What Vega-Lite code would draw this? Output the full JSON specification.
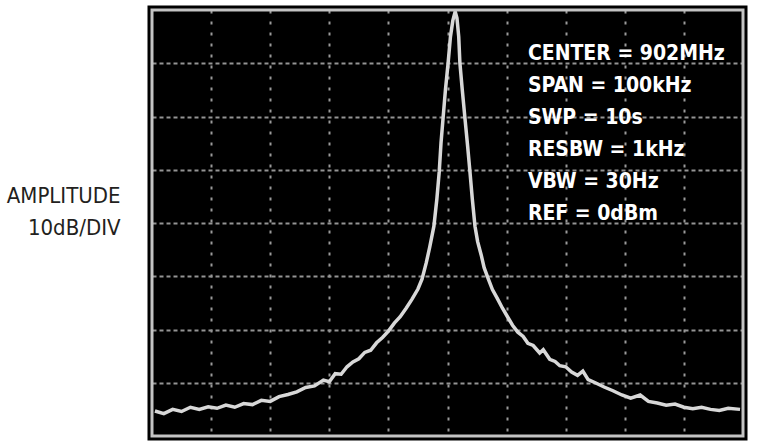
{
  "$schema": "https://vega.github.io/schema/vega-lite/v6.json",
  "autosize": "none",
  "width": 591,
  "height": 426,
  "padding": {"left": 152, "top": 10, "right": 19, "bottom": 8},
  "background": "white",
  "config": {"view": {"fill": "black", "stroke": "black", "strokeWidth": 9}},
  "datasets": {
    "frame": [{"x0": -50, "x1": 50, "y0": -80, "y1": 0}],
    "trace": [
      {"f": -49.5, "a": -75.3}, {"f": -48, "a": -75.8}, {"f": -46.5, "a": -75.0}, {"f": -45, "a": -75.4},
      {"f": -43.5, "a": -74.6}, {"f": -42, "a": -75.0}, {"f": -40.5, "a": -74.5}, {"f": -39, "a": -74.8},
      {"f": -37.5, "a": -74.2}, {"f": -36, "a": -74.6}, {"f": -34.5, "a": -73.9}, {"f": -33, "a": -74.1},
      {"f": -31.5, "a": -73.3}, {"f": -30, "a": -73.5}, {"f": -28.5, "a": -72.6}, {"f": -27, "a": -72.2},
      {"f": -25.5, "a": -71.7}, {"f": -24, "a": -70.9}, {"f": -22.5, "a": -70.6}, {"f": -21, "a": -69.5},
      {"f": -20, "a": -69.8}, {"f": -19, "a": -68.3}, {"f": -18, "a": -68.4}, {"f": -17, "a": -67.0},
      {"f": -16, "a": -66.1}, {"f": -15, "a": -65.5}, {"f": -14, "a": -64.3}, {"f": -13, "a": -63.9},
      {"f": -12, "a": -62.5}, {"f": -11, "a": -61.5}, {"f": -10, "a": -60.3}, {"f": -9, "a": -58.8},
      {"f": -8, "a": -57.6}, {"f": -7, "a": -56.0}, {"f": -6, "a": -54.3}, {"f": -5, "a": -52.4},
      {"f": -4.3, "a": -50.5}, {"f": -3.6, "a": -47.5}, {"f": -3.0, "a": -44.5}, {"f": -2.3, "a": -40.6},
      {"f": -1.8, "a": -35.5}, {"f": -1.4, "a": -30.4}, {"f": -1.1, "a": -25}, {"f": -0.75, "a": -20.3},
      {"f": -0.35, "a": -15}, {"f": 0.1, "a": -10}, {"f": 0.5, "a": -5}, {"f": 0.9, "a": -2},
      {"f": 1.3, "a": -0.3}, {"f": 1.6, "a": -1.5}, {"f": 1.9, "a": -5}, {"f": 2.1, "a": -10},
      {"f": 2.5, "a": -15}, {"f": 2.95, "a": -20.3}, {"f": 3.4, "a": -25.5}, {"f": 3.8, "a": -30.4},
      {"f": 4.2, "a": -35.5}, {"f": 4.65, "a": -40.6}, {"f": 5.1, "a": -43.5}, {"f": 5.7, "a": -46.0},
      {"f": 6.2, "a": -48.4}, {"f": 6.9, "a": -50.5}, {"f": 7.6, "a": -52.5}, {"f": 8.4, "a": -54.1},
      {"f": 9.3, "a": -56.0}, {"f": 10.2, "a": -57.7}, {"f": 11.0, "a": -59.2}, {"f": 11.9, "a": -60.5},
      {"f": 12.8, "a": -61.3}, {"f": 13.6, "a": -62.6}, {"f": 14.5, "a": -63.0}, {"f": 15.6, "a": -64.4},
      {"f": 16.2, "a": -63.8}, {"f": 17.3, "a": -65.6}, {"f": 18.2, "a": -66.0}, {"f": 19.0, "a": -66.8},
      {"f": 20.0, "a": -67.0}, {"f": 21.0, "a": -68.0}, {"f": 22.0, "a": -68.6}, {"f": 22.9, "a": -67.8},
      {"f": 23.8, "a": -69.4}, {"f": 25.0, "a": -70.0}, {"f": 26.5, "a": -70.8}, {"f": 28.0, "a": -71.5},
      {"f": 29.5, "a": -72.3}, {"f": 31.0, "a": -72.9}, {"f": 32.6, "a": -72.3}, {"f": 34.0, "a": -73.5},
      {"f": 35.5, "a": -73.8}, {"f": 37.0, "a": -74.2}, {"f": 38.5, "a": -74.0}, {"f": 40.0, "a": -74.6},
      {"f": 41.5, "a": -74.9}, {"f": 43.0, "a": -74.6}, {"f": 44.5, "a": -75.0}, {"f": 46.0, "a": -75.2},
      {"f": 47.5, "a": -74.8}, {"f": 49.5, "a": -75.0}
    ],
    "labels": [
      {"x": 13.6, "y": -9.4, "text": "CENTER = 902MHz"},
      {"x": 13.6, "y": -15.4, "text": "SPAN = 100kHz"},
      {"x": 13.6, "y": -21.4, "text": "SWP = 10s"},
      {"x": 13.6, "y": -27.4, "text": "RESBW = 1kHz"},
      {"x": 13.6, "y": -33.4, "text": "VBW = 30Hz"},
      {"x": 13.6, "y": -39.4, "text": "REF = 0dBm"}
    ]
  },
  "layer": [
    {
      "data": {"name": "trace"},
      "mark": {"type": "line", "color": "#d8d8d8", "strokeWidth": 3.5, "clip": true},
      "encoding": {
        "x": {
          "field": "f", "type": "quantitative",
          "scale": {"domain": [-50, 50], "nice": false, "zero": false},
          "axis": {
            "values": [-40, -30, -20, -10, 0, 10, 20, 30, 40],
            "grid": true, "gridColor": "#9a9a9a", "gridDash": [3, 8], "gridWidth": 2,
            "labels": false, "ticks": false, "domain": false, "title": null
          }
        },
        "y": {
          "field": "a", "type": "quantitative",
          "scale": {"domain": [-80, 0], "nice": false, "zero": false},
          "axis": {
            "values": [-70, -60, -50, -40, -30, -20, -10],
            "grid": true, "gridColor": "#949494", "gridDash": [4, 3], "gridWidth": 2,
            "labels": false, "ticks": false, "domain": false,
            "title": ["AMPLITUDE", "10dB/DIV"],
            "titleAngle": 0, "titleAlign": "right", "titleBaseline": "alphabetic",
            "titleX": -32, "titleY": 192,
            "titleFont": "'DejaVu Sans Condensed', 'Liberation Sans', sans-serif", "titleFontSize": 22, "titleFontWeight": "normal",
            "titleColor": "#231f20", "titleLineHeight": 32
          }
        }
      }
    },
    {
      "data": {"name": "frame"},
      "mark": {"type": "rect", "fillOpacity": 0, "stroke": "#c4c4c4", "strokeWidth": 3},
      "encoding": {
        "x": {"field": "x0", "type": "quantitative"},
        "x2": {"field": "x1"},
        "y": {"field": "y0", "type": "quantitative"},
        "y2": {"field": "y1"}
      }
    },
    {
      "data": {"name": "labels"},
      "mark": {"type": "text", "align": "left", "baseline": "alphabetic", "color": "white",
               "font": "'DejaVu Sans Condensed', 'Liberation Sans', sans-serif", "fontSize": 21, "fontWeight": "bold"},
      "encoding": {
        "x": {"field": "x", "type": "quantitative"},
        "y": {"field": "y", "type": "quantitative"},
        "text": {"field": "text"}
      }
    }
  ]
}
